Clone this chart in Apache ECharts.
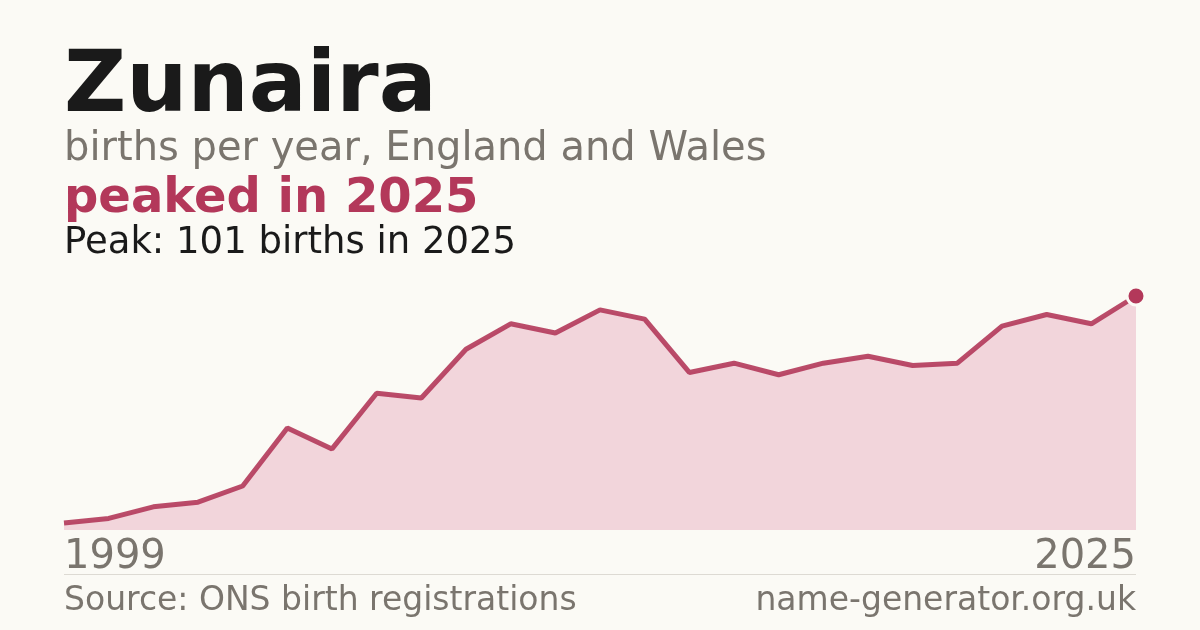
<!DOCTYPE html>
<html><head><meta charset="utf-8">
<script src="https://cdn.jsdelivr.net/npm/echarts@6/dist/echarts.min.js"></script>
<style>html,body{margin:0;padding:0;background:#fbfaf5}#c{width:1200px;height:630px}</style>
</head><body><div id="c"></div>
<script>
var years = ['1999','2001','2003','2004','2005','2006','2007','2008','2009','2010','2011','2012','2013','2014','2015','2016','2017','2018','2019','2020','2021','2022','2023','2024','2025'];
var births = [3,5,10,12,19,44,35,59,57,78,89,85,95,91,68,72,67,72,75,71,72,88,93,89,101];
var titleText = 'Zunaira';
var subtitleText = 'births per year, England and Wales';
var headlineText = 'peaked in 2025';
var peakText = 'Peak: 101 births in 2025';
var sourceText = 'Source: ONS birth registrations';
var siteText = 'name-generator.org.uk';

var RED = '#b3385a';
var GRAY = '#7a756e';
var FONT = 'DejaVu Sans';
var last = births.length - 1;
var chart = echarts.init(document.getElementById('c'));
chart.setOption({
  backgroundColor: '#fbfaf5',
  animation: false,
  grid: {left: 64, right: 64, top: 296, bottom: 100},
  xAxis: {
    type: 'category', data: years, boundaryGap: false,
    axisLine: {show: false}, axisTick: {show: false}, splitLine: {show: false},
    axisLabel: {
      interval: function (i) { return i === 0 || i === last; },
      color: GRAY, fontFamily: FONT, fontSize: 40, margin: 8,
      alignMinLabel: 'left', alignMaxLabel: 'right'
    }
  },
  yAxis: {type: 'value', min: 0, max: 101, show: false, splitLine: {show: false}},
  series: [{
    type: 'line', data: births, symbol: 'none', clip: false,
    lineStyle: {color: RED, width: 5, opacity: 0.9},
    areaStyle: {color: '#f2d5db', opacity: 1}
  }, {
    type: 'scatter', data: [[last, births[last]]], symbol: 'circle', symbolSize: 18,
    clip: false, z: 5,
    itemStyle: {color: RED, opacity: 1, borderColor: '#fbfaf5', borderWidth: 3}
  }],
  graphic: [
    {type: 'text', left: 64, top: 46, style: {text: titleText, font: 'bold 86px "DejaVu Sans"', fill: '#1a1a1a'}},
    {type: 'text', left: 64, top: 130, style: {text: subtitleText, font: '40px "DejaVu Sans"', fill: GRAY}},
    {type: 'text', left: 64, top: 176, style: {text: headlineText, font: 'bold 48px "DejaVu Sans"', fill: RED}},
    {type: 'text', left: 64, top: 225, style: {text: peakText, font: '37px "DejaVu Sans"', fill: '#1a1a1a'}},
    {type: 'rect', shape: {x: 64, y: 574, width: 1072, height: 1}, style: {fill: '#dddad3'}},
    {type: 'text', left: 64, top: 585, style: {text: sourceText, font: '33px "DejaVu Sans"', fill: GRAY}},
    {type: 'text', right: 64, top: 585, style: {text: siteText, font: '33px "DejaVu Sans"', fill: GRAY}}
  ]
});
</script></body></html>
